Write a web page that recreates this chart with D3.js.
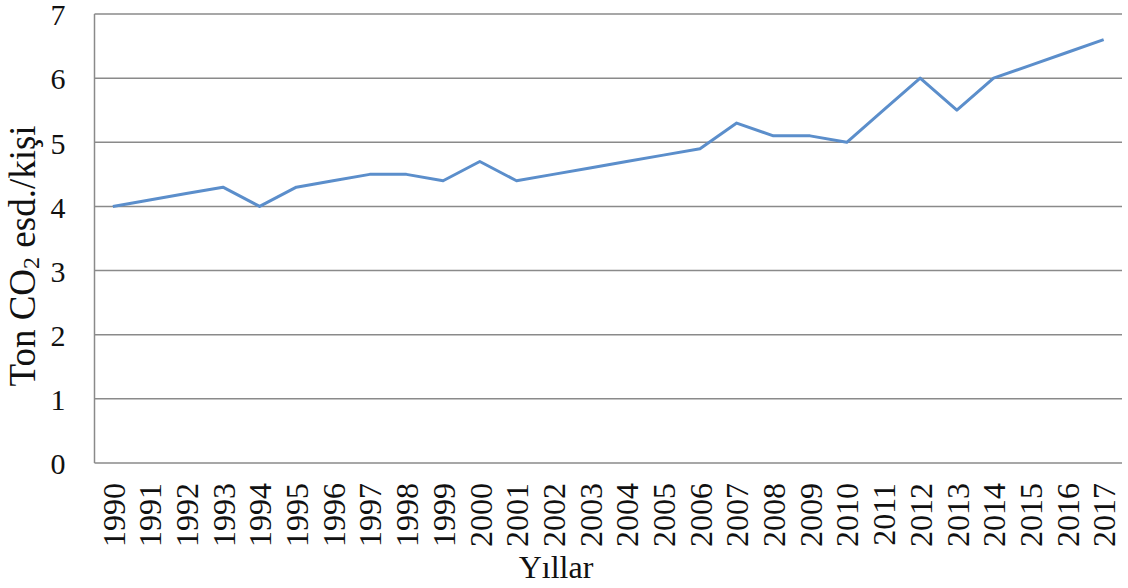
<!DOCTYPE html>
<html>
<head>
<meta charset="utf-8">
<script src="https://cdn.jsdelivr.net/npm/d3@7"></script>
<style>
  html, body { margin: 0; padding: 0; background: #fff; }
  svg { display: block; }
  text { font-family: "Liberation Serif", "Times New Roman", serif; fill: #111; }
</style>
</head>
<body>
<svg id="chart" width="1128" height="588"></svg>
<script>
// Per-capita emissions, tonnes CO2 equivalent per person, 1990–2017
const years = ["1990","1991","1992","1993","1994","1995","1996","1997","1998","1999",
               "2000","2001","2002","2003","2004","2005","2006","2007","2008","2009",
               "2010","2011","2012","2013","2014","2015","2016","2017"];
const perCapita = [4.0, 4.1, 4.2, 4.3, 4.0, 4.3, 4.4, 4.5, 4.5, 4.4,
                   4.7, 4.4, 4.5, 4.6, 4.7, 4.8, 4.9, 5.3, 5.1, 5.1,
                   5.0, 5.5, 6.0, 5.5, 6.0, 6.2, 6.4, 6.6];
const yTicks = [0, 1, 2, 3, 4, 5, 6, 7];

const svg = d3.select("#chart");
const plot = { left: 94.5, right: 1122, top: 14, bottom: 463 };

const x = d3.scalePoint().domain(years).range([plot.left, plot.right]).padding(0.5);
const y = d3.scaleLinear().domain([0, 7]).range([plot.bottom, plot.top]);

// horizontal gridlines
svg.append("g")
  .selectAll("line")
  .data(yTicks)
  .join("line")
  .attr("x1", plot.left).attr("x2", plot.right)
  .attr("y1", d => y(d)).attr("y2", d => y(d))
  .attr("stroke", "#8a8a8a").attr("stroke-width", 1.5);

// vertical axis line
svg.append("line")
  .attr("x1", plot.left).attr("x2", plot.left)
  .attr("y1", y(7)).attr("y2", y(0))
  .attr("stroke", "#8a8a8a").attr("stroke-width", 1.5);

// y axis labels
const yAxis = d3.axisLeft(y).tickValues(yTicks).tickSize(0).tickPadding(29).tickFormat(d3.format("d"));
const gy = svg.append("g").attr("transform", `translate(${plot.left},0)`).call(yAxis);
gy.select(".domain").remove();
gy.selectAll("text")
  .attr("font-size", 30)
  .attr("font-family", "Liberation Serif, serif")
  .attr("fill", "#111")
  .attr("dy", "0.36em");

// x axis labels, rotated
const xAxis = d3.axisBottom(x).tickSize(0).tickPadding(0);
const gx = svg.append("g").attr("transform", `translate(0,${plot.bottom})`).call(xAxis);
gx.select(".domain").remove();
gx.selectAll("text")
  .attr("font-size", 32)
  .attr("font-family", "Liberation Serif, serif")
  .attr("fill", "#111")
  .attr("text-anchor", "end")
  .attr("dy", "0.35em")
  .attr("transform", "translate(0,20) rotate(-90)");

// series line
const line = d3.line()
  .x((d, i) => x(years[i]))
  .y(d => y(d));

svg.append("path")
  .datum(perCapita)
  .attr("d", line)
  .attr("fill", "none")
  .attr("stroke", "#5b8ecb")
  .attr("stroke-width", 3)
  .attr("stroke-linejoin", "round");

// axis titles
svg.append("text")
  .attr("x", 556).attr("y", 578)
  .attr("text-anchor", "middle")
  .attr("font-size", 32)
  .text("Yıllar");

const yt = svg.append("text")
  .attr("transform", "translate(35,256) rotate(-90)")
  .attr("text-anchor", "middle")
  .attr("font-size", 37);
yt.append("tspan").text("Ton CO");
yt.append("tspan").attr("font-size", 24).attr("dy", 4).text("2");
yt.append("tspan").attr("dy", -4).text(" esd./kişi");
</script>
</body>
</html>
